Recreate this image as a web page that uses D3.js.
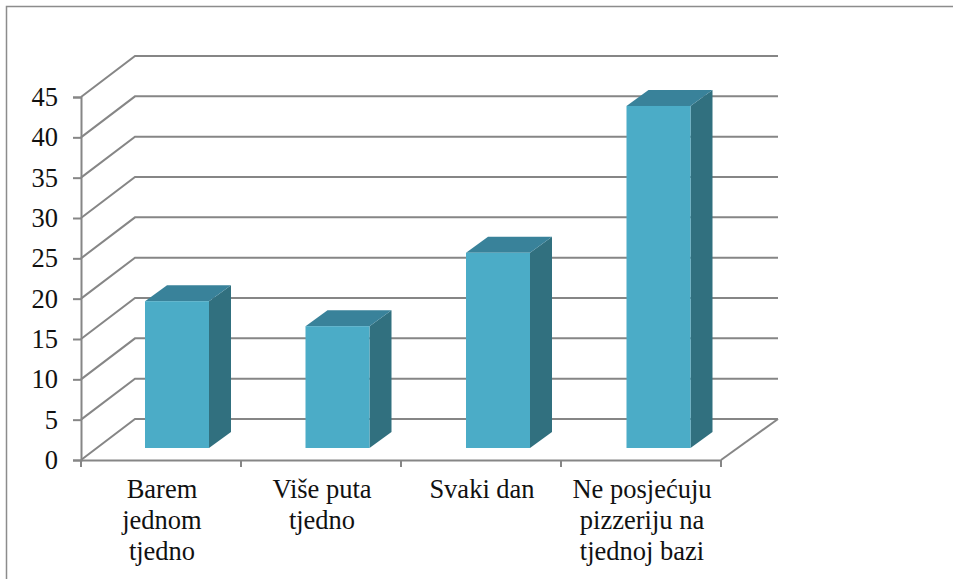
<!DOCTYPE html>
<html lang="en">
<head>
	<meta charset="UTF-8"/>
	<title>Posjet pizzeriji</title>
	<script src="https://d3js.org/d3.v7.min.js"></script>
	<style>
		html, body { margin: 0; padding: 0; background: #fff; overflow: hidden; }
		svg { display: block; }
		text { font-family: "Liberation Serif", serif; fill: #111; }
	</style>
</head>
<body>
	<div id="chart-container"></div>

	<script>
	var categories = ["Barem jednom tjedno", "Više puta tjedno", "Svaki dan", "Ne posjećuju pizzeriju na tjednoj bazi"];
	var categoryLines = [
		["Barem", "jednom", "tjedno"],
		["Više puta", "tjedno"],
		["Svaki dan"],
		["Ne posjećuju", "pizzeriju na", "tjednoj bazi"]
	];
	var values = [18.2, 15.1, 24.2, 42.4];
	var yTicks = [0, 5, 10, 15, 20, 25, 30, 35, 40, 45];

	var w = 953;
	var h = 579;
	var x0 = 81, x1 = 721;      // front edge of the floor
	var yBottom = 460, yTop = 97;
	var backDx = 54, backDy = 41; // floor depth
	var backRight = 778;
	var barDx = 22, barDy = 16;  // bar depth
	var barFrontDy = 12;
	var fontSize = 26.5;

	var grey = "#868686";

	var svg = d3.select("#chart-container")
		.append("svg")
		.attr("width", w)
		.attr("height", h);

	// frame of the pasted chart, bottom and right are cut off
	svg.append("path")
		.attr("d", "M6.5," + h + "V6.5H" + w)
		.attr("fill", "none")
		.attr("stroke", "#8c8c8c")
		.attr("stroke-width", 1.5);

	var xScale = d3.scaleBand()
		.domain(categories)
		.range([x0, x1]);

	// bars drift a little to the right of the axis bands in the 3d projection
	var barScale = d3.scaleBand()
		.domain(categories)
		.range([x0, x1 + 2]);

	var yScale = d3.scaleLinear()
		.domain([0, 45])
		.range([yBottom, yTop]);

	// gridlines: diagonal on the side wall, then across the back wall
	svg.selectAll("path.grid")
		.data(yTicks)
		.enter()
		.append("path")
		.attr("class", "grid")
		.attr("fill", "none")
		.attr("stroke", grey)
		.attr("stroke-width", 2)
		.attr("d", function (d) {
			var y = yScale(d);
			return "M" + x0 + "," + y + "L" + (x0 + backDx) + "," + (y - backDy) + "H" + backRight;
		});

	// floor, right edge
	svg.append("line")
		.attr("x1", x1)
		.attr("y1", yBottom)
		.attr("x2", backRight)
		.attr("y2", yBottom - backDy)
		.attr("stroke", grey)
		.attr("stroke-width", 2);

	var yAxis = d3.axisLeft(yScale)
		.tickValues(yTicks)
		.tickSize(8)
		.tickPadding(15);

	var gy = svg.append("g")
		.attr("transform", "translate(" + x0 + ",0)")
		.call(yAxis);
	gy.selectAll("path, line").attr("stroke", grey).attr("stroke-width", 2);
	gy.selectAll("text")
		.attr("font-family", "Liberation Serif")
		.attr("font-size", fontSize)
		.attr("fill", "#111");

	var xAxis = d3.axisBottom(xScale).tickSize(0).tickFormat("");
	var gx = svg.append("g")
		.attr("transform", "translate(0," + yBottom + ")")
		.call(xAxis);
	gx.selectAll("path").attr("stroke", grey).attr("stroke-width", 2);

	// x ticks sit on the band edges
	svg.selectAll("line.xtick")
		.data(d3.range(categories.length + 1))
		.enter()
		.append("line")
		.attr("class", "xtick")
		.attr("x1", function (d) { return x0 + d * xScale.step(); })
		.attr("x2", function (d) { return x0 + d * xScale.step(); })
		.attr("y1", yBottom)
		.attr("y2", yBottom + 7)
		.attr("stroke", grey)
		.attr("stroke-width", 2);

	// bars
	var barW = xScale.bandwidth() * 0.4;
	var barOffset = xScale.bandwidth() * 0.4;
	var bars = svg.selectAll("g.bar")
		.data(values)
		.enter()
		.append("g")
		.attr("class", "bar");

	function barLeft(i) { return barScale(categories[i]) + barOffset; }
	function barTop(d) { return yScale(d) - barFrontDy; }
	var base = yBottom - barFrontDy;

	bars.append("path")
		.attr("fill", "#31707f")
		.attr("d", function (d, i) {
			var r = barLeft(i) + barW;
			return "M" + r + "," + barTop(d) + "l" + barDx + "," + (-barDy) + "V" + (base - barDy) + "L" + r + "," + base + "Z";
		});

	bars.append("path")
		.attr("fill", "#39829a")
		.attr("d", function (d, i) {
			var l = barLeft(i);
			return "M" + l + "," + barTop(d) + "l" + barDx + "," + (-barDy) + "h" + barW + "l" + (-barDx) + "," + barDy + "Z";
		});

	bars.append("rect")
		.attr("x", function (d, i) { return barLeft(i); })
		.attr("y", function (d) { return barTop(d); })
		.attr("width", barW)
		.attr("height", function (d) { return base - barTop(d); })
		.attr("fill", "#4bacc7");

	// category labels
	var labels = svg.selectAll("text.cat")
		.data(categoryLines)
		.enter()
		.append("text")
		.attr("class", "cat")
		.attr("text-anchor", "middle")
		.attr("font-size", fontSize);

	labels.selectAll("tspan")
		.data(function (d, i) {
			return d.map(function (t, j) {
				return { text: t, line: j, cat: i };
			});
		})
		.enter()
		.append("tspan")
		.attr("x", function (d) { return xScale(categories[d.cat]) + xScale.bandwidth() / 2 + 1; })
		.attr("y", function (d) { return 498 + d.line * 31; })
		.text(function (d) { return d.text; });
	</script>
</body>
</html>
